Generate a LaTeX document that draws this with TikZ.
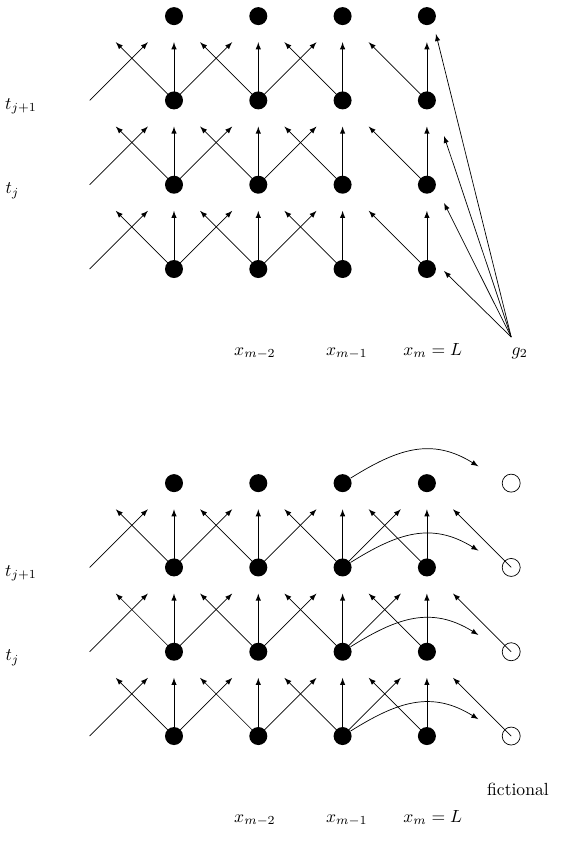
\documentclass[tikz,border=0pt]{standalone}
\begin{document}
\begin{tikzpicture}[x=1.686cm, y=1.686cm, >=latex, every node/.style={circle, fill, inner sep=0pt, minimum size=3.6mm}]
  \useasboundingbox (-2.064,-6.785) rectangle (4.579,3.191);

  % grid points (A = upper, B = lower)
  \foreach \h/\y in {A/0, B/-5.54} {
    \foreach \i in {0,...,3} {
      \foreach \j in {0,...,3} {
        \node (\h\i\j) at (\i, \y+\j) {};
      }
    }
  }
  \foreach \j in {0,...,3} {
    \node[fill=none, draw] (F\j) at (4, -5.54+\j) {};
  }

  % stencil arrows
  \foreach \h/\y in {A/0, B/-5.54} {
    \foreach \j in {0,1,2} {
      \coordinate (\h S\j) at (-1, \y+\j);
      \coordinate (\h T\j) at (-1+0.69, \y+\j+0.69);
      \draw[->] (\h S\j) -- (\h T\j);
      \foreach \i in {0,...,3} {
        \coordinate (\h N\i\j) at (\i, \y+\j+0.69);
        \coordinate (\h W\i\j) at (\i-0.69, \y+\j+0.69);
        \draw[->] (\h\i\j.center) -- (\h N\i\j);
        \draw[->] (\h\i\j.center) -- (\h W\i\j);
      }
      \foreach \i in {0,1} {
        \coordinate (\h E\i\j) at (\i+0.69, \y+\j+0.69);
        \draw[->] (\h\i\j.center) -- (\h E\i\j);
      }
    }
  }

  % boundary condition g2
  \coordinate (G) at (4, -0.807);
  \coordinate (G0) at (3.203, -0.024);
  \coordinate (G1) at (3.203, 0.783);
  \coordinate (G2) at (3.203, 1.578);
  \coordinate (G3) at (3.107, 2.788);
  \foreach \j in {0,...,3} \draw[->] (G) -- (G\j);

  % fictional points
  \foreach \j in {0,1,2} {
    \coordinate (BE2\j) at (2.69, -5.54+\j+0.69);
    \draw[->] (B2\j.center) -- (BE2\j);
    \coordinate (FW\j) at (4-0.69, -5.54+\j+0.69);
    \draw[->] (F\j.center) -- (FW\j);
  }
  \foreach \j in {0,...,3} {
    \coordinate (C\j) at (3.61, -5.54+\j+0.2);
    \draw[->] (B2\j) to[out=32, in=148, looseness=1.1] (C\j);
  }

  % labels
  \node[fill=none] (tA1) at (-1.815, 1.93) {$t_{j+1}$};
  \node[fill=none] (tA0) at (-1.916, 0.925) {$t_j$};
  \node[fill=none] (tB1) at (-1.815, 1.93-5.54) {$t_{j+1}$};
  \node[fill=none] (tB0) at (-1.916, 0.925-5.54) {$t_j$};

  \node[fill=none, anchor=base] (xA1) at (0.96, -1.02) {$x_{m-2}$};
  \node[fill=none, anchor=base] (xA2) at (2.05, -1.02) {$x_{m-1}$};
  \node[fill=none, anchor=base] (xA3) at (3.07, -1.02) {$x_m = L$};
  \node[fill=none, anchor=base] (g) at (4.10, -1.02) {$g_2$};

  \node[fill=none, anchor=base] (xB1) at (0.96, -1.02-5.54) {$x_{m-2}$};
  \node[fill=none, anchor=base] (xB2) at (2.05, -1.02-5.54) {$x_{m-1}$};
  \node[fill=none, anchor=base] (xB3) at (3.07, -1.02-5.54) {$x_m = L$};
  \node[fill=none, anchor=base] (fict) at (4.08, -6.24) {fictional};
\end{tikzpicture}
\end{document}
